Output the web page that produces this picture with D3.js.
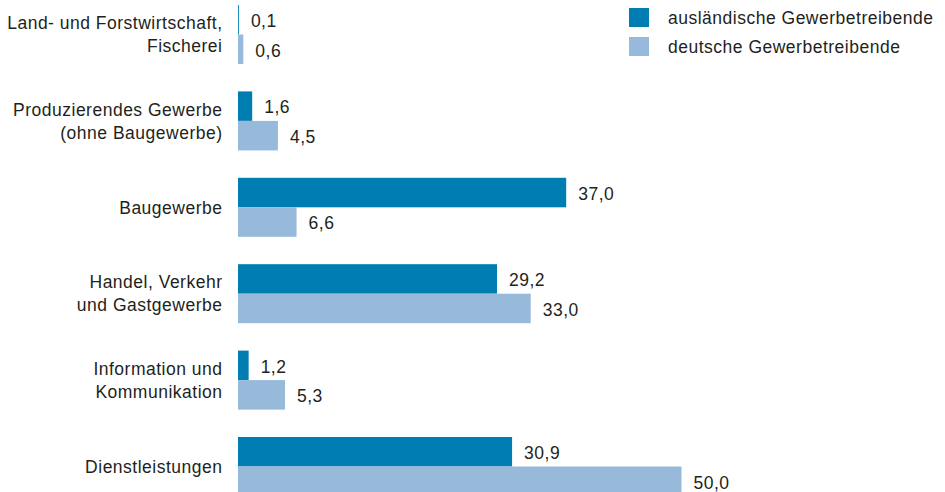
<!DOCTYPE html>
<html><head><meta charset="utf-8">
<script src="https://cdn.jsdelivr.net/npm/d3@7"></script>
<style>body{margin:0;background:#fff}svg{display:block}text{font-family:"Liberation Sans",Arial,sans-serif;fill:#231f20;letter-spacing:0.5px}</style>
</head><body><svg id="c" width="945" height="492"></svg>
<script>
const categories = [
  ["Land- und Forstwirtschaft,", "Fischerei"],
  ["Produzierendes Gewerbe", "(ohne Baugewerbe)"],
  ["Baugewerbe"],
  ["Handel, Verkehr", "und Gastgewerbe"],
  ["Information und", "Kommunikation"],
  ["Dienstleistungen"]
];
const seriesNames = ["ausländische Gewerbetreibende", "deutsche Gewerbetreibende"];
const auslaendisch = [0.1, 1.6, 37.0, 29.2, 1.2, 30.9];
const deutsch = [0.6, 4.5, 6.6, 33.0, 5.3, 50.0];
const colors = ["#007eb1", "#97b9da"];

const svg = d3.select("#c");
const ids = categories.map((d, i) => i);
const y = d3.scaleBand().domain(ids).range([5, 496]).paddingInner(0.317).paddingOuter(0);
const sub = d3.scaleBand().domain([0, 1]).range([0, y.bandwidth()]);
const x = d3.scaleLinear().domain([0, 50]).range([238, 681.5]);
const fmt = v => d3.format(".1f")(v).replace(".", ",");
const FS = 17.5;

const series = [auslaendisch, deutsch];
series.forEach((vals, s) => {
  const g = svg.append("g");
  g.selectAll("rect").data(vals).join("rect")
    .attr("x", x(0)).attr("y", (d, i) => y(i) + sub(s))
    .attr("width", d => x(d) - x(0)).attr("height", sub.bandwidth())
    .attr("fill", colors[s]);
  g.selectAll("text").data(vals).join("text")
    .attr("x", d => x(d) + 12).attr("y", (d, i) => y(i) + sub(s) + sub.bandwidth() / 2 + 1)
    .attr("dy", "0.36em").attr("font-size", FS).text(fmt);
});

const lab = svg.append("g");
categories.forEach((lines, i) => {
  const cy = y(i) + y.bandwidth() / 2;
  const t = lab.append("text").attr("text-anchor", "end").attr("font-size", FS);
  lines.forEach((l, k) => {
    t.append("tspan").attr("x", 222.5)
      .attr("y", cy + (k - (lines.length - 1) / 2) * 23).attr("dy", "0.36em").text(l);
  });
});

const leg = svg.append("g");
seriesNames.forEach((n, i) => {
  leg.append("rect").attr("x", 629).attr("y", 8 + i * 29).attr("width", 20).attr("height", 19).attr("fill", colors[i]);
  leg.append("text").attr("x", 668).attr("y", 18 + i * 29).attr("dy", "0.36em").attr("font-size", FS).text(n);
});
</script></body></html>
